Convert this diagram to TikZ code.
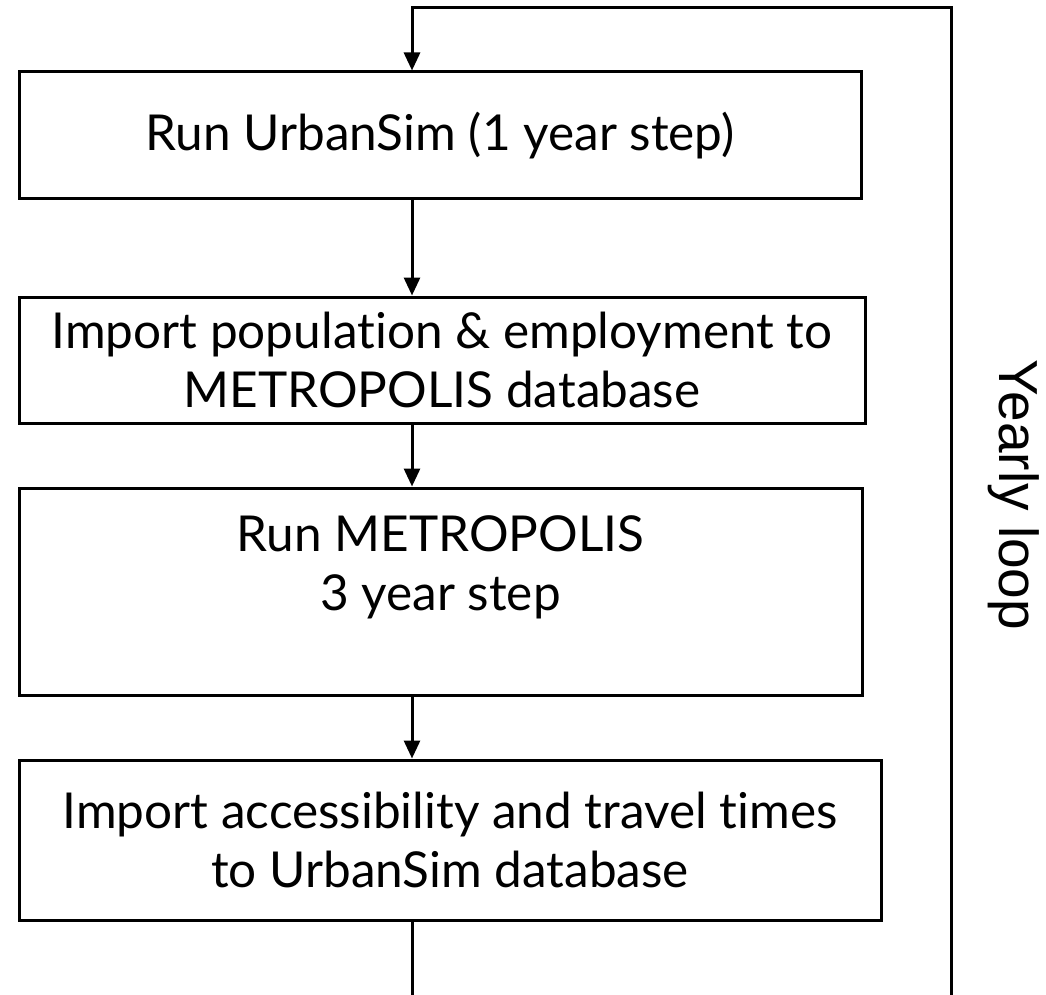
\documentclass[tikz,border=0pt]{standalone}
\usepackage{fontspec}
\setmainfont{Lato}[Ligatures=NoCommon]
\newfontfamily\loopfont{Liberation Sans}
\usetikzlibrary{arrows.meta}

\begin{document}
\begin{tikzpicture}[x=1pt, y=1pt, >={Triangle[width=16pt, length=18pt]}, line width=3pt,
		stepbox/.style={draw, rectangle, align=center, inner sep=0pt, font=\fontsize{49.5}{59}\selectfont},
		boxtext/.style={align=center, inner sep=0pt, font=\fontsize{49.5}{59}\selectfont}]
		\useasboundingbox (0, 0) rectangle (1046, -995);

		\node[stepbox, minimum width=842, minimum height=127]	(urbansim) at (440, -135.5) {Run UrbanSim (1 year step)};
		\node[stepbox, minimum width=846, minimum height=126]	(popemp) at (442, -360) {Import population \& employment to\\METROPOLIS database};
		\node[stepbox, minimum width=843, minimum height=207]	(metro) at (440.5, -591.5) {};
		\node[boxtext]											(metrotext) at (440.5, -567) {Run METROPOLIS\\3 year step};
		\node[stepbox, minimum width=862, minimum height=160]	(access) at (450, -840) {Import accessibility and travel times\\to UrbanSim database};

		\coordinate (loopbot) at (412, -995);
		\coordinate (loopbr) at (951, -995);
		\coordinate (looptr) at (951, -8);
		\coordinate (looptl) at (412, -8);

		\draw[->] (urbansim.south -| loopbot) -- (popemp.north -| loopbot);
		\draw[->] (popemp.south -| loopbot) -- (metro.north -| loopbot);
		\draw[->] (metro.south -| loopbot) -- (access.north -| loopbot);
		\draw (access.south -| loopbot) -- (loopbot);
		\draw[->] (loopbr) -- (looptr) -- (looptl) -- (urbansim.north -| looptl);

		\node[rotate=-90, font=\loopfont\fontsize{55}{60}\selectfont] (looplabel) at (1014, -495) {Yearly loop};
	\end{tikzpicture}
\end{document}
